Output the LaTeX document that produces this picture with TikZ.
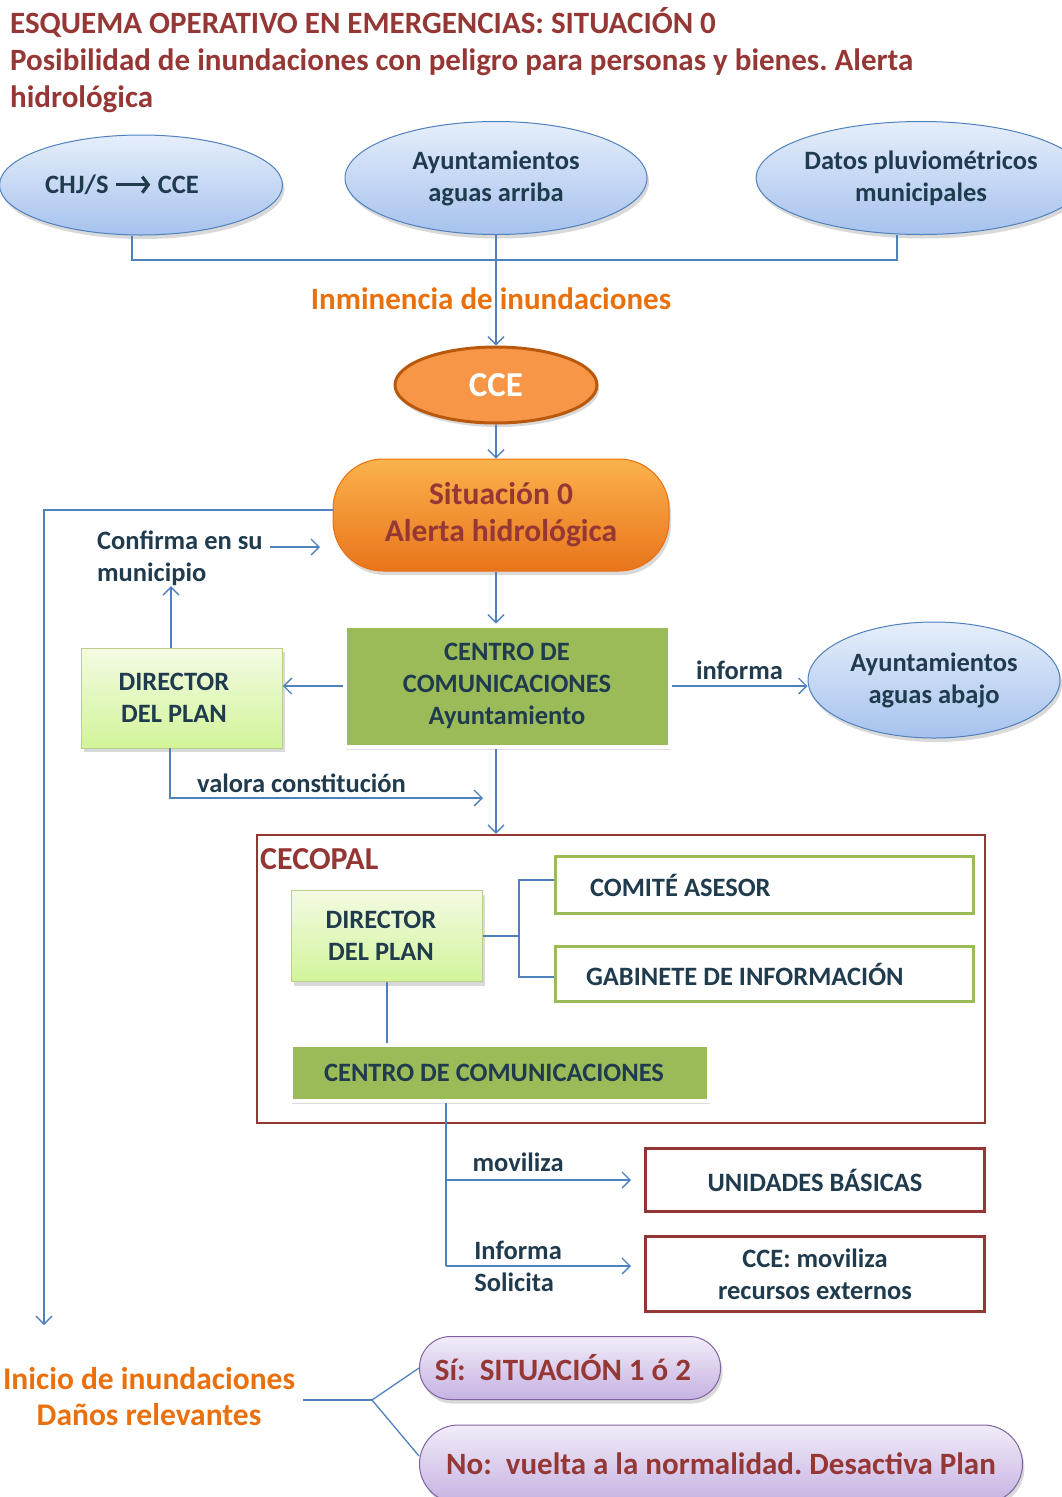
\documentclass[tikz,border=0pt]{standalone}
\usepackage{fontspec}
\setmainfont{Carlito}
\usetikzlibrary{arrows.meta,shapes.geometric,shadows,positioning}
\frenchspacing

\definecolor{titlered}{HTML}{953735}
\definecolor{linkblue}{HTML}{4F81BD}
\definecolor{inktext}{HTML}{1F3B4D}
\definecolor{skytop}{HTML}{E6EEFA}
\definecolor{skybottom}{HTML}{A6C2EE}
\definecolor{fireorange}{HTML}{F79646}
\definecolor{firerim}{HTML}{B9590E}
\definecolor{labelorange}{HTML}{EA700E}
\definecolor{leafgreen}{HTML}{9BBB59}
\definecolor{sprouttop}{HTML}{F3FBE3}
\definecolor{sproutbottom}{HTML}{D3F49A}
\definecolor{cecored}{HTML}{943634}
\definecolor{lilactop}{HTML}{F2ECF8}
\definecolor{lilacbottom}{HTML}{C5B2E2}
\definecolor{lilacrim}{HTML}{8064A2}

\begin{document}
\begin{tikzpicture}[x=1pt, y=-1pt,
        txt/.style={font=\fontsize{26.5}{32}\selectfont\bfseries, text=inktext, align=flush center},
        bubble/.style={txt, ellipse, draw=linkblue, line width=1pt, top color=skytop, bottom color=skybottom,
            inner sep=0pt, drop shadow={shadow xshift=2pt, shadow yshift=-4pt, opacity=0.3}},
        pill/.style={rectangle, inner sep=0pt, drop shadow={shadow xshift=2pt, shadow yshift=-4pt, opacity=0.3}},
        sprout/.style={txt, rectangle, draw=leafgreen!70, line width=0.8pt, top color=sprouttop, bottom color=sproutbottom,
            inner sep=0pt, drop shadow={shadow xshift=2pt, shadow yshift=-4pt, opacity=0.3}},
        grass/.style={txt, rectangle, fill=leafgreen, draw=white, line width=4pt, inner sep=0pt,
            drop shadow={shadow xshift=1pt, shadow yshift=-3pt, opacity=0.25}},
        framed/.style={txt, rectangle, fill=white, line width=3pt, inner sep=0pt},
        link/.style={linkblue, line width=1.3pt},
        arrow/.style={link, -{Straight Barb[length=8pt, width=16pt]}}
    ]
        \useasboundingbox (0,0) rectangle (1061,1497);

        % Heading
        \node[anchor=north west, align=flush left, text=titlered, inner sep=0pt,
            font=\fontsize{31}{37}\selectfont\bfseries] (title) at (10,7)
            {ESQUEMA OPERATIVO EN EMERGENCIAS: SITUACIÓN 0\\
             Posibilidad de inundaciones con peligro para personas y bienes. Alerta\\
             hidrológica};

        % Sources of information
        \node[bubble, minimum width=283, minimum height=100] (chj) at (141,185)
            {\hspace*{-38pt}CHJ/S \tikz[baseline=-0.7ex]\draw[inktext, line width=3.2pt, -{Straight Barb[length=6pt, width=16pt]}] (0pt,0pt) -- (34pt,0pt); CCE};
        \node[bubble, minimum width=302, minimum height=113] (arriba) at (496,178) {Ayuntamientos\\aguas arriba};
        \node[bubble, minimum width=298, minimum height=113] (datos) at (921,178) {Datos pluviométricos\\municipales};

        \coordinate (join) at (496,260);
        \draw[link] ([xshift=-9pt]chj.south) |- (join) -| ([xshift=-24pt]datos.south);

        % CCE and Situacion 0
        \node[ellipse, draw=firerim, line width=3pt, fill=fireorange, minimum width=202, minimum height=76, inner sep=0pt,
            text=white, font=\fontsize{35}{40}\selectfont\bfseries,
            drop shadow={shadow xshift=2pt, shadow yshift=-4pt, opacity=0.3}] (cce) at (496,385) {CCE};
        \node[font=\fontsize{31}{36}\selectfont\bfseries, text=labelorange] (inminencia) at (491,299) {Inminencia de inundaciones};
        \draw[arrow] (arriba.south) -- (cce.north);

        \node[pill, rounded corners=50pt, minimum width=336, minimum height=112, top color={rgb,255:red,251;green,178;blue,76},
            bottom color={rgb,255:red,232;green,116;blue,28}, draw=labelorange, line width=1pt,
            align=flush center, text=titlered, font=\fontsize{31.5}{37}\selectfont\bfseries] (sit0) at (501,515)
            {Situación 0\\Alerta hidrológica};
        \draw[arrow] (cce.south) -- (cce.south |- sit0.north);

        % Municipal level
        \node[grass, minimum width=325, minimum height=121] (centro) at (507,686) {CENTRO DE\\COMUNICACIONES\\Ayuntamiento};
        \node[sprout, minimum width=201, minimum height=100] (director) at (182,698) {\hspace*{-16pt}DIRECTOR\\\hspace*{-16pt}DEL PLAN};
        \node[bubble, minimum width=252, minimum height=116] (abajo) at (934,680) {Ayuntamientos\\aguas abajo};
        \node[txt, anchor=north west, align=flush left, inner sep=0pt] (confirma) at (97,531) {Confirma en su\\municipio};

        \draw[arrow] (sit0.south -| cce.south) -- (centro.north -| cce.south);
        \draw[arrow] ([yshift=5pt]sit0.west) -| (44,1325) coordinate (loopend);
        \coordinate (confirmtip) at (320,547);
        \draw[arrow] ([xshift=7pt]confirma.east |- confirmtip) -- (confirmtip);
        \draw[arrow] ([xshift=-11pt]director.north) -- ([xshift=-11pt]director.north |- confirma.south);
        \draw[arrow] (centro.west) -- (centro.west -| director.east);
        \draw[arrow] (centro.east) -- (centro.east -| abajo.west) node[txt, midway, above=2pt] {informa};
        \coordinate (valoratip) at (483,798);
        \draw[arrow] ([xshift=-12pt]director.south) |- (valoratip) node[txt, pos=0.71, above=1pt] {valora constitución};

        % CECOPAL
        \node[rectangle, draw=cecored, line width=2.5pt, minimum width=728, minimum height=288] (cecopal) at (621,979) {};
        \node[anchor=north west, text=cecored, inner sep=0pt, font=\fontsize{32}{36}\selectfont\bfseries]
            (cecopallabel) at (260,848) {CECOPAL};
        \draw[arrow] (centro.south -| cce.south) -- (cecopal.north -| cce.south);

        \node[sprout, minimum width=191, minimum height=91] (director2) at (387,936) {\hspace*{-12pt}DIRECTOR\\\hspace*{-12pt}DEL PLAN};
        \node[framed, draw=leafgreen, minimum width=418, minimum height=57, text width=348, align=flush left, inner xsep=35pt]
            (comite) at (764,885) {COMITÉ ASESOR};
        \node[framed, draw=leafgreen, minimum width=418, minimum height=55, text width=356, align=flush left, inner xsep=31pt]
            (gabinete) at (764,974) {GABINETE DE INFORMACIÓN};
        \node[grass, minimum width=418, minimum height=56] (centro2) at (500,1073) {\hspace*{-12pt}CENTRO DE COMUNICACIONES};

        \draw[link] (director2.east) -- ++(36,0) coordinate (fork);
        \draw[link] (fork) |- ([yshift=5pt]comite.west);
        \draw[link] (fork) |- ([yshift=-3pt]gabinete.west);
        \draw[link] (director2.south) -- (director2.south |- centro2.north);

        % Resources
        \node[framed, draw=cecored, minimum width=339, minimum height=63] (unidades) at (815,1180) {UNIDADES BÁSICAS};
        \node[framed, draw=cecored, minimum width=339, minimum height=75] (externos) at (815,1274) {CCE: moviliza\\recursos externos};

        \coordinate (split) at (446,1266);
        \draw[link] (centro2.south -| split) -- (split);
        \draw[arrow] (split |- unidades.west) -- ([xshift=-13pt]unidades.west) node[txt, pos=0.39, above=4pt] {moviliza};
        \draw[arrow] (split) -- ([xshift=-13pt]split -| externos.west)
            node[txt, pos=0.15, anchor=west, align=flush left, inner sep=0pt] {Informa\\Solicita};

        % Outcome
        \node[font=\fontsize{31.5}{36}\selectfont\bfseries, text=labelorange, align=flush center] (inicio) at (149,1397)
            {Inicio de inundaciones\\Daños relevantes};
        \node[pill, rounded corners=31pt, minimum width=301, minimum height=63, top color=lilactop, bottom color=lilacbottom,
            draw=lilacrim, line width=1pt, text=titlered, font=\fontsize{31}{34}\selectfont\bfseries] (si) at (570,1368)
            {\hspace*{-14pt}Sí:\ \ SITUACIÓN 1 ó 2};
        \node[pill, rounded corners=39pt, minimum width=603, minimum height=78, top color=lilactop, bottom color=lilacbottom,
            draw=lilacrim, line width=1pt, text=titlered, font=\fontsize{31}{36}\selectfont\bfseries] (no) at (721,1464)
            {No:\ \ vuelta a la normalidad. Desactiva Plan};

        \coordinate (branch) at (372,1400);
        \draw[link] ([xshift=4pt]inicio.east |- branch) -- (branch);
        \draw[link] (branch) -- (si.west);
        \draw[link] (branch) -- ([yshift=8pt]no.west);

    \end{tikzpicture}
\end{document}
